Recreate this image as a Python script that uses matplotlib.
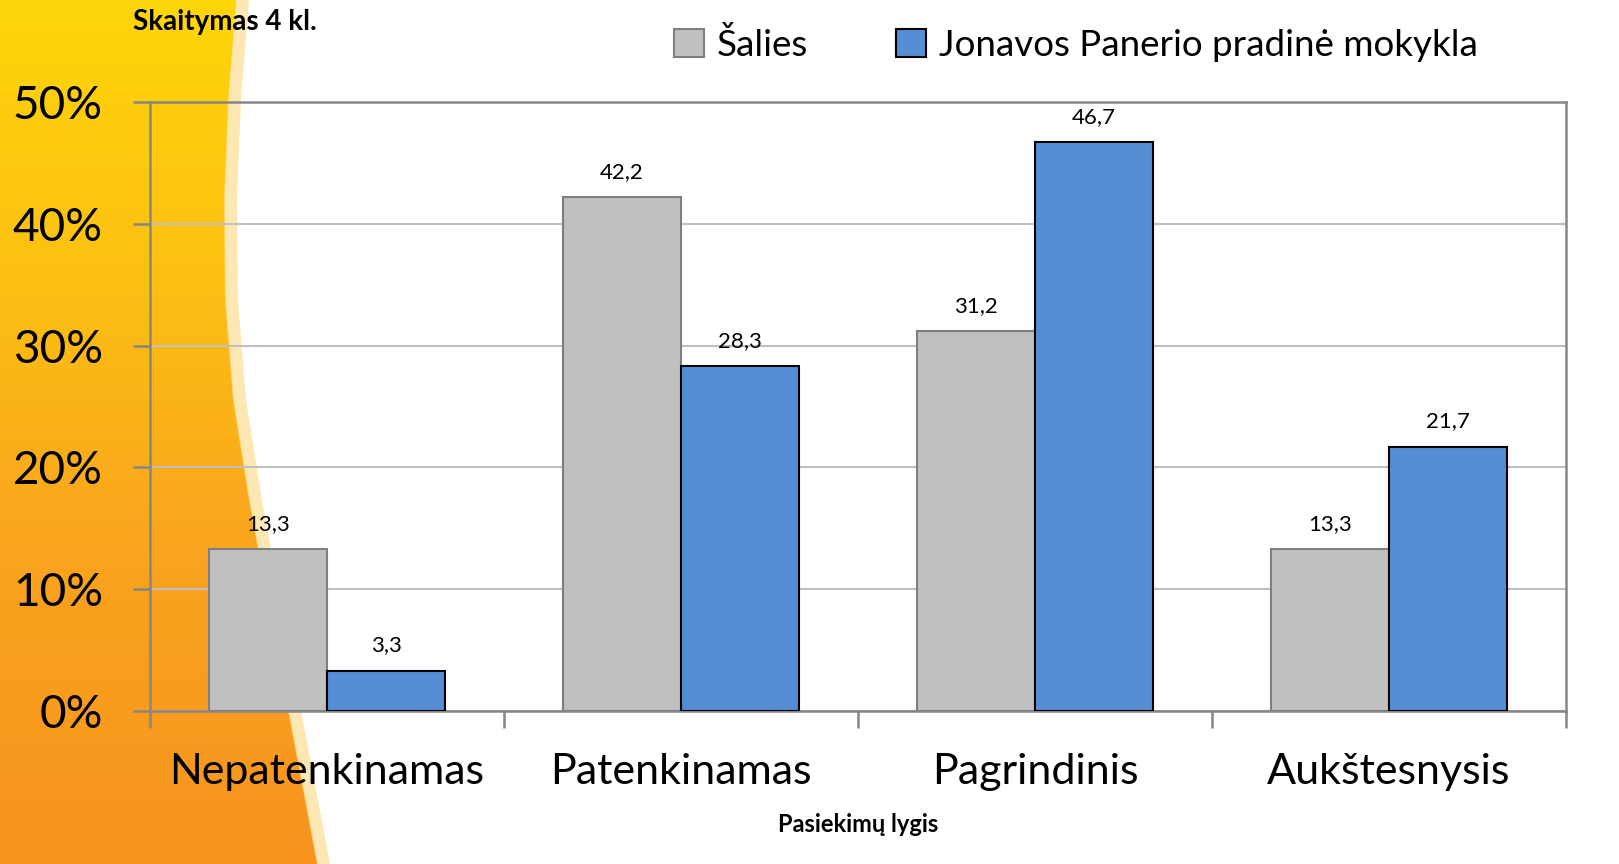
import numpy as np
import matplotlib
matplotlib.use("Agg")
import matplotlib.pyplot as plt
from matplotlib.patches import Polygon
from matplotlib.ticker import PercentFormatter
from matplotlib.colors import LinearSegmentedColormap

plt.rcParams['font.family'] = ['Lato', 'DejaVu Sans']

categories = ["Nepatenkinamas", "Patenkinamas", "Pagrindinis", "Aukštesnysis"]
salies = [13.3, 42.2, 31.2, 13.3]
mokykla = [3.3, 28.3, 46.7, 21.7]
series_names = ["Šalies", "Jonavos Panerio pradinė mokykla"]
title = "Skaitymas 4 kl."
xlabel = "Pasiekimų lygis"

W, H = 1619, 864
fig = plt.figure(figsize=(W / 100, H / 100), dpi=100)

# background swoosh
bg = fig.add_axes([0, 0, 1, 1], zorder=0)
bg.set_xlim(0, W)
bg.set_ylim(H, 0)
bg.axis('off')
ys = np.array([0, 100, 200, 300, 400, 500, 600, 700, 800, 864])
xs = np.array([237, 229, 225, 226, 234, 250, 268, 287, 306, 318])
grad = np.linspace(0, 1, 256).reshape(-1, 1)
cmap = LinearSegmentedColormap.from_list('o', ['#FFD60A', '#FCBF13', '#F9A21F', '#F7941E'])
im = bg.imshow(grad, cmap=cmap, extent=[0, 400, H, 0], aspect='auto', zorder=0)
poly = Polygon(list(zip(xs, ys)) + [(0, H), (0, 0)], closed=True, transform=bg.transData)
im.set_clip_path(poly)
band = Polygon(list(zip(xs - 1, ys)) + list(zip(xs[::-1] + 12, ys[::-1])), closed=True,
               facecolor='#FDE3A0', edgecolor='none', alpha=0.8, zorder=1)
bg.add_patch(band)

ax = fig.add_axes([150 / W, 1 - 711 / H, (1566 - 150) / W, (711 - 102) / H], zorder=2)
ax.patch.set_alpha(0)
x = np.arange(len(categories))
w = 1 / 3
b1 = ax.bar(x - w / 2, salies, w, color='#C0C0C0', edgecolor='#7F7F7F', linewidth=1.5,
            label=series_names[0], zorder=3)
b2 = ax.bar(x + w / 2, mokykla, w, color='#558ED5', edgecolor='#000000', linewidth=1.5,
            label=series_names[1], zorder=3)
for bars, vals in ((b1, salies), (b2, mokykla)):
    for r, v in zip(bars, vals):
        ax.annotate(f"{v:.1f}".replace('.', ','), (r.get_x() + r.get_width() / 2, v),
                    xytext=(0, 11), textcoords='offset points', ha='center', va='bottom',
                    fontsize=16)

ax.set_xlim(-0.5, len(categories) - 0.5)
ax.set_ylim(0, 50)
ax.set_yticks(np.arange(0, 51, 10))
ax.yaxis.set_major_formatter(PercentFormatter(decimals=0))
ax.grid(axis='y', color='#BFBFBF', linewidth=1.5, zorder=0)
ax.set_axisbelow(True)
for s in ax.spines.values():
    s.set_color('#868686')
    s.set_linewidth(1.8)
ax.set_xticks(np.arange(-0.5, len(categories), 1))
ax.set_xticklabels([])
ax.set_xticks(x, minor=True)
ax.set_xticklabels(categories, minor=True, fontsize=31)
ax.tick_params(axis='x', which='major', length=12, width=1.8, color='#868686', direction='out')
ax.tick_params(axis='x', which='minor', length=0, pad=30)
ax.tick_params(axis='y', length=12, width=1.8, color='#868686', labelsize=33, pad=22)

ax.set_xlabel(xlabel, fontsize=17, fontweight='bold', labelpad=16)
fig.text(133 / W, 1 - 22 / H, title, fontsize=20, fontweight='bold', va='center', ha='left', zorder=5)

leg = fig.legend(handles=[b1, b2], loc='center', bbox_to_anchor=(1076 / W, 1 - 45 / H), ncol=2,
                 frameon=False, fontsize=26.5, handlelength=0.8, handleheight=0.8,
                 columnspacing=2.4, handletextpad=0.35)

fig.savefig('out.png', dpi=100)
